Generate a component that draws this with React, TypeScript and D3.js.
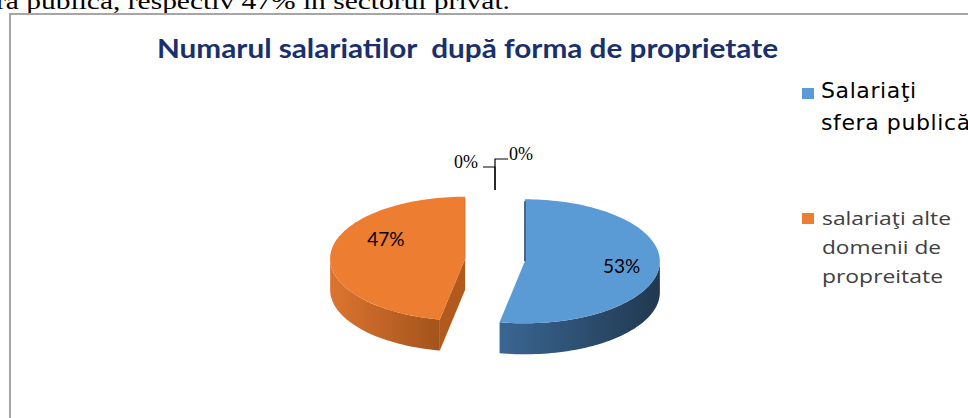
import React from "react";
import * as d3 from "d3";

const W = 968;
const H = 418;

// text of the page and chart
const PAGE_TEXT = "ră publică, respectiv 47% în sectorul privat.";
const TITLE = "Numarul salariatilor  după forma de proprietate";

// series
const SERIES_NAMES = ["Salariaţi sfera publică", "salariaţi alte domenii de propreitate", "", ""];
const SERIES_VALUES = [53, 47, 0, 0];
const LEGEND_LINES = [["Salariaţi", "sfera publică"], ["salariaţi alte", "domenii de", "propreitate"]];
const TOP_COLORS = ["#5b9bd5", "#ed7d31"];
const WALL_COLORS = [["#3a6692", "#213850"], ["#dc7430", "#a3531c"]];
const FACE_COLORS = ["#2c4c6e", "#b25a1d"];

const fmt = d3.format(".0%");

export default function App() {
  const cx = 495, cy = 260, rx = 135, ry = 62, depth = 31, explode = 30;
  const total = d3.sum(SERIES_VALUES);

  const pie = d3.pie<number>().sort(null).startAngle(0).endAngle(2 * Math.PI);
  const arcs = pie(SERIES_VALUES);

  const ptAt = (a: number, c: { x: number; y: number }, dy = 0): [number, number] => [
    c.x + rx * Math.sin(a),
    c.y - ry * Math.cos(a) + dy,
  ];
  const sweep = (a1: number, a2: number, c: { x: number; y: number }, dy = 0) => {
    const n = Math.max(2, Math.ceil(Math.abs(a2 - a1) / 0.03));
    return d3.range(n + 1).map((i) => ptAt(a1 + ((a2 - a1) * i) / n, c, dy));
  };
  const line = d3.line();

  const slices = arcs
    .map((d, i) => ({ d, i }))
    .filter(({ d }) => d.value > 0)
    .map(({ d, i }) => {
      const mid = (d.startAngle + d.endAngle) / 2;
      const c = {
        x: cx + explode * Math.sin(mid),
        y: cy - explode * Math.cos(mid) * (ry / rx),
      };
      return { d, i, mid, c };
    });

  // label placement tweaks (angle shift, radius share)
  const LABEL_TWEAK = [
    { shift: 0, r: 0.72 },
    { shift: 0.41, r: 0.67 },
  ];

  const zeroArcs = arcs.filter((d) => d.value === 0);

  return (
    <svg width={W} height={H} style={{ position: "absolute", left: 0, top: 0, background: "#fff" }}>
      <defs>
        {slices.map(({ i, c }) => (
          <linearGradient
            key={i}
            id={`wall${i}`}
            gradientUnits="userSpaceOnUse"
            x1={i === 0 ? c.x - 25 : c.x - rx}
            x2={i === 0 ? c.x + rx : c.x - 25}
            y1={0}
            y2={0}
          >
            <stop offset="0" stopColor={WALL_COLORS[i][0]} />
            <stop offset="1" stopColor={WALL_COLORS[i][1]} />
          </linearGradient>
        ))}
      </defs>

      <text x={-4} y={9} fontFamily="Liberation Serif" fontSize={24} fill="#000" textLength={514} lengthAdjust="spacingAndGlyphs">
        {PAGE_TEXT}
      </text>

      <rect x={10} y={14} width={W + 20} height={H + 20} fill="#fff" stroke="#a6a6a6" strokeWidth={2} />

      <text
        x={157}
        y={58}
        fontFamily="Lato"
        fontWeight="bold"
        fontSize={26}
        fill="#1a306c"
        textLength={621}
        lengthAdjust="spacingAndGlyphs"
        style={{ whiteSpace: "pre" }}
      >
        {TITLE}
      </text>

      {/* side walls and cut faces */}
      {slices.map(({ d, i, c }) => {
        const lo = Math.max(d.startAngle, Math.PI / 2);
        const hi = Math.min(d.endAngle, (3 * Math.PI) / 2);
        const faces: JSX.Element[] = [];
        const faceAt = (a: number, key: string) => {
          const e = ptAt(a, c);
          const pts: [number, number][] = [[c.x, c.y], e, [e[0], e[1] + depth], [c.x, c.y + depth]];
          faces.push(<path key={key} d={line(pts)! + "Z"} fill={FACE_COLORS[i]} />);
        };
        if (-Math.sin(d.startAngle) > 0.01) faceAt(d.startAngle, "s");
        if (Math.sin(d.endAngle) > 0.01) faceAt(d.endAngle, "e");
        let wall = null;
        if (lo < hi) {
          const top = sweep(lo, hi, c);
          const bot = sweep(hi, lo, c, depth);
          wall = <path d={line([...top, ...bot])! + "Z"} fill={`url(#wall${i})`} />;
        }
        return (
          <g key={`side${i}`}>
            {faces}
            {wall}
          </g>
        );
      })}

      {/* top faces */}
      {slices.map(({ d, i, c }) => {
        const pts: [number, number][] = [[c.x, c.y], ...sweep(d.startAngle, d.endAngle, c)];
        const s = ptAt(i === 0 ? d.startAngle : d.endAngle, c);
        return (
          <g key={`top${i}`}>
            <path d={line(pts)! + "Z"} fill={TOP_COLORS[i]} />
            <line
              x1={s[0]}
              y1={s[1] + 2}
              x2={c.x}
              y2={c.y}
              stroke={FACE_COLORS[i]}
              strokeWidth={i === 0 ? 1.6 : 0.8}
              opacity={i === 0 ? 0.9 : 0.5}
            />
          </g>
        );
      })}

      {/* percentage labels */}
      {slices.map(({ d, i, mid, c }) => {
        const t = LABEL_TWEAK[i];
        const a = mid + t.shift;
        const x = c.x + rx * t.r * Math.sin(a);
        const y = c.y - ry * t.r * Math.cos(a);
        return (
          <text
            key={`lab${i}`}
            x={x}
            y={y}
            textAnchor="middle"
            dominantBaseline="central"
            fontFamily="Lato"
            fontSize={19}
            fill="#000"
          >
            {fmt(d.value / total)}
          </text>
        );
      })}

      {/* zero slices: leader lines */}
      {zeroArcs.map((d, k) => {
        const e = ptAt(d.endAngle, { x: cx, y: cy }, -8);
        const yTurn = k === 0 ? e[1] - 23 : e[1] - 31;
        const xEnd = k === 0 ? e[0] - 12 : e[0] + 13;
        const pts: [number, number][] = [e, [e[0], yTurn], [xEnd, yTurn]];
        return (
          <g key={`zero${k}`}>
            <path d={line(pts)!} fill="none" stroke="#000" strokeWidth={1.2} />
            <text
              x={k === 0 ? xEnd - 5 : xEnd + 1}
              y={yTurn + 1}
              textAnchor={k === 0 ? "end" : "start"}
              fontFamily="Liberation Serif"
              fontSize={18}
              fill="#000"
            >
              {fmt(d.value / total)}
            </text>
          </g>
        );
      })}

      {/* legend */}
      {LEGEND_LINES.map((lines, i) => {
        const top = i === 0 ? 88 : 213;
        return (
          <g key={`leg${i}`}>
            <rect x={802} y={top} width={12} height={11} fill={TOP_COLORS[i]} />
            {lines.map((l, j) =>
              i === 0 ? (
                <text
                  key={j}
                  x={821}
                  y={98 + j * 32}
                  fontFamily="DejaVu Sans"
                  fontSize={22}
                  letterSpacing={0.6}
                  fill="#000"
                >
                  {l}
                </text>
              ) : (
                <text
                  key={j}
                  x={822}
                  y={225 + j * 29}
                  fontFamily="Open Sans"
                  fontSize={19}
                  fill="#404040"
                  textLength={[129, 119, 121][j]}
                  lengthAdjust="spacingAndGlyphs"
                >
                  {l}
                </text>
              )
            )}
          </g>
        );
      })}
      <title>{SERIES_NAMES.filter(Boolean).join(", ")}</title>
    </svg>
  );
}
